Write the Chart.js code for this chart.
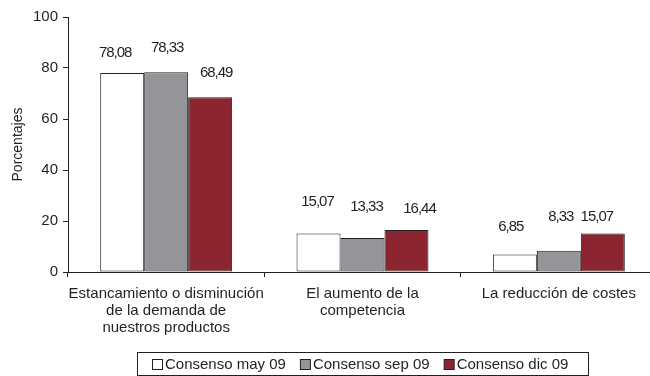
<!DOCTYPE html>
<html>
<head>
<meta charset="utf-8">
<script src="https://cdn.jsdelivr.net/npm/chart.js@4"></script>
<style>
  html, body { margin: 0; padding: 0; background: #fff; overflow: hidden; }
  #wrap { width: 650px; height: 376px; overflow: hidden; }
</style>
</head>
<body>
<div id="wrap"><canvas id="chart" width="680" height="376"></canvas></div>
<script>
// categorias del eje x (en varias lineas)
const categorias = [
  ["Estancamiento o disminución", "de la demanda de", "nuestros productos"],
  ["El aumento de la", "competencia"],
  ["La reducción de costes"]
];
const series = ["Consenso may 09", "Consenso sep 09", "Consenso dic 09"];
const consensoMay = [78.08, 15.07, 6.85];
const consensoSep = [78.33, 13.33, 8.33];
const consensoDic = [68.49, 16.44, 15.07];
const ticksY = [0, 20, 40, 60, 80, 100];

const colores = ["#ffffff", "#939598", "#8b2631"];
const tinta = "#231f20";
const fuente = "'Liberation Sans', Arial, sans-serif";

// desplazamiento de cada etiqueta de valor respecto a la punta de su barra [dx, subida]
const ajusteEtiquetas = [
  [[-7, 20], [-1, 32], [-4, 28]],
  [[1, 24], [4, 31], [2, 34]],
  [[6, 24], [13, 21], [-6, 17]]
];

const fmt = v => v.toFixed(2).replace(".", ",");

const etiquetasValor = {
  id: "etiquetasValor",
  afterDatasetsDraw(chart) {
    const ctx = chart.ctx;
    ctx.save();
    ctx.font = "15px " + fuente;
    ctx.letterSpacing = "-1px";
    ctx.fillStyle = tinta;
    ctx.textAlign = "center";
    ctx.textBaseline = "middle";
    chart.data.datasets.forEach((ds, i) => {
      chart.getDatasetMeta(i).data.forEach((bar, j) => {
        const [dx, sube] = ajusteEtiquetas[i][j];
        ctx.fillText(fmt(ds.data[j]), bar.x + dx, bar.y - sube);
      });
    });
    ctx.restore();
  }
};

// leyenda con recuadro, dibujada bajo el grafico
const leyendaCaja = {
  id: "leyendaCaja",
  afterDraw(chart) {
    const ctx = chart.ctx;
    ctx.save();
    ctx.font = "15px " + fuente;
    ctx.lineWidth = 1;
    ctx.strokeStyle = tinta;
    ctx.strokeRect(137.5, 352.5, 451, 23);
    let x = 152;
    const yc = 365;
    chart.data.datasets.forEach(ds => {
      ctx.fillStyle = ds.backgroundColor;
      ctx.fillRect(x + 0.5, yc - 5.5, 10, 10);
      ctx.strokeRect(x + 0.5, yc - 5.5, 10, 10);
      ctx.fillStyle = tinta;
      ctx.textBaseline = "middle";
      ctx.textAlign = "left";
      ctx.fillText(ds.label, x + 13, yc);
      x += 13 + ctx.measureText(ds.label).width + 14;
    });
    ctx.restore();
  }
};

const datos = [consensoMay, consensoSep, consensoDic];

new Chart(document.getElementById("chart"), {
  type: "bar",
  data: {
    labels: categorias,
    datasets: series.map((s, i) => ({
      label: s,
      data: datos[i],
      backgroundColor: colores[i],
      borderColor: tinta,
      borderWidth: 1,
      borderSkipped: false,
      categoryPercentage: 0.672,
      barPercentage: 1
    }))
  },
  options: {
    responsive: false,
    animation: false,
    devicePixelRatio: 1,
    layout: { padding: { top: 17, right: 23, bottom: 30, left: 0 } },
    plugins: {
      legend: { display: false },
      tooltip: { enabled: false }
    },
    scales: {
      x: {
        afterFit: s => { s.height = 74; },
        grid: { display: true, drawOnChartArea: false, offset: true, tickLength: 5, color: tinta },
        border: { display: true, color: tinta, width: 1 },
        ticks: {
          color: tinta,
          padding: 8,
          maxRotation: 0,
          autoSkip: false,
          font: { family: fuente, size: 15, lineHeight: 17 / 15 }
        }
      },
      y: {
        min: 0,
        max: 100,
        afterFit: s => { s.width = 68; },
        afterBuildTicks: s => { s.ticks = ticksY.map(v => ({ value: v })); },
        grid: { display: true, drawOnChartArea: false, tickLength: 5, color: tinta },
        border: { display: true, color: tinta, width: 1 },
        ticks: {
          color: tinta,
          padding: 5,
          font: { family: fuente, size: 15 }
        },
        title: {
          display: true,
          text: "Porcentajes",
          color: tinta,
          padding: { top: 10, bottom: 0 },
          font: { family: fuente, size: 14 }
        }
      }
    }
  },
  plugins: [etiquetasValor, leyendaCaja]
});
</script>
</body>
</html>
